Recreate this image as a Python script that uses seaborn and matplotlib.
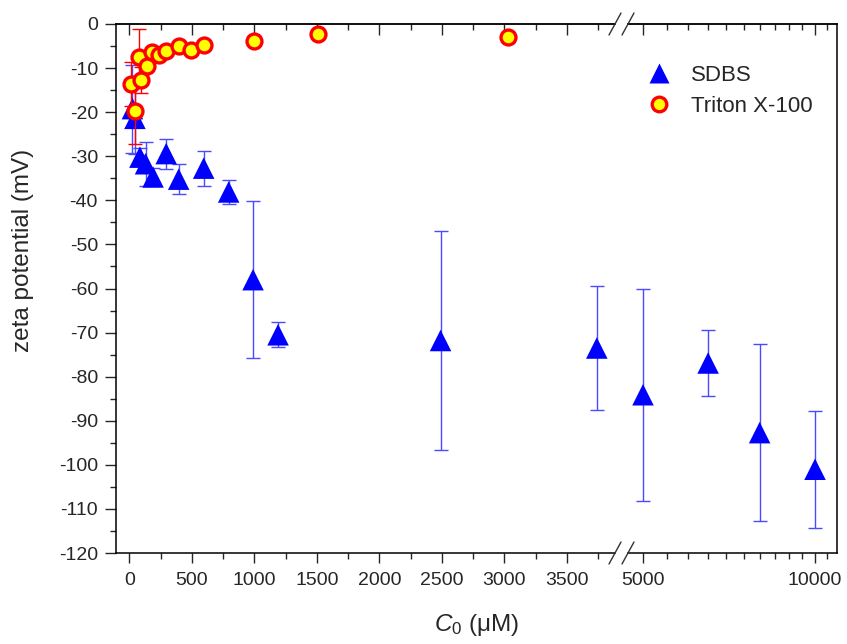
import numpy as np
import pandas as pd
import matplotlib
matplotlib.use("Agg")
import matplotlib.pyplot as plt
import seaborn as sns
from matplotlib.ticker import FixedLocator, NullFormatter, MultipleLocator
from matplotlib.lines import Line2D

# ---------------- data ----------------
sdbs_c = [25, 45, 85, 130, 190, 295, 395, 595, 795, 990, 1190, 2490, 3740,
          5000, 6500, 8000, 10000]
sdbs_zeta = [-19.2, -21.4, -30.2, -31.7, -34.7, -29.4, -35.2, -32.7, -38.1,
             -58.0, -70.5, -71.8, -73.5, -84.1, -76.9, -92.7, -101.0]
sdbs_err = [10.0, 8.0, 2.0, 5.0, 2.0, 3.4, 3.4, 4.0, 2.8, 17.8, 2.8, 24.8,
            14.0, 24.0, 7.5, 20.0, 13.3]

tx_c = [10, 45, 75, 90, 140, 185, 235, 290, 400, 490, 600, 1000, 1510, 3030]
tx_zeta = [-13.7, -19.8, -7.4, -12.7, -9.5, -6.4, -7.0, -6.1, -4.9, -5.9,
           -4.8, -3.9, -2.3, -2.9]
tx_err = [5.0, 7.5, 6.3, 3.0, 1.0, 1.0, 1.0, 1.0, 0.8, 0.8, 0.6, 0.8, 0.8, 0.6]

left_ticks = [0, 500, 1000, 1500, 2000, 2500, 3000, 3500]
right_ticks = [5000, 10000]
y_ticks = list(range(-120, 1, 10))

sdbs = pd.DataFrame({"C0": sdbs_c, "zeta": sdbs_zeta, "err": sdbs_err})
triton = pd.DataFrame({"C0": tx_c, "zeta": tx_zeta, "err": tx_err})

# ---------------- style ----------------
sns.set_theme(style="ticks")
plt.rcParams["font.family"] = ["Liberation Sans", "DejaVu Sans"]
plt.rcParams["axes.unicode_minus"] = False
plt.rcParams["mathtext.fontset"] = "custom"
plt.rcParams["mathtext.rm"] = "Liberation Sans"
plt.rcParams["mathtext.it"] = "Liberation Sans:italic"

W, H = 847, 644
fig = plt.figure(figsize=(W / 100, H / 100), dpi=100)

y_top, y_bot = 24, 553
xL0, xL1 = 116, 615
xR0, xR1 = 628, 837

axL = fig.add_axes([xL0 / W, 1 - y_bot / H, (xL1 - xL0) / W, (y_bot - y_top) / H])
axR = fig.add_axes([xR0 / W, 1 - y_bot / H, (xR1 - xR0) / W, (y_bot - y_top) / H],
                   sharey=axL)
axR.set_xscale("log")

blue = "#0000ff"
ebar_blue = "#4a4aff"
red = "#ff0000"
yellow = "#ffff00"

for ax in (axL, axR):
    ax.errorbar(sdbs["C0"], sdbs["zeta"], yerr=sdbs["err"], fmt="none",
                ecolor=ebar_blue, elinewidth=1.0, capsize=5, capthick=1.0, zorder=2)
    sns.scatterplot(data=sdbs, x="C0", y="zeta", ax=ax, marker="^", s=240,
                    color=blue, edgecolor="none", linewidth=0, zorder=3, legend=False)
    ax.errorbar(triton["C0"], triton["zeta"], yerr=triton["err"], fmt="none",
                ecolor=red, elinewidth=1.0, capsize=5, capthick=1.0, zorder=4)
    sns.scatterplot(data=triton, x="C0", y="zeta", ax=ax, marker="o", s=115,
                    color=yellow, edgecolor=red, linewidth=2.4, zorder=5, legend=False)
    ax.set_xlabel("")
    ax.set_ylabel("")
    ax.set_ylim(-120, 0)
    for sp in ax.spines.values():
        sp.set_linewidth(1.1)
        sp.set_color("black")

# left axis limits (pixel mapping: 0 -> 129.3 px, 0.125 px per uM)
axL.set_xlim((xL0 - 129.3) / 0.125, (xL1 - 129.3) / 0.125)
# right axis (log): 5000 -> 643 px, 571.4 px per decade
axR.set_xlim(5000 * 10 ** ((xR0 - 643) / 571.4), 5000 * 10 ** ((xR1 - 643) / 571.4))

axL.spines["right"].set_visible(False)
axR.spines["left"].set_visible(False)

# ticks
axL.set_xticks(left_ticks)
axL.set_xticklabels([str(t) for t in left_ticks])
axL.xaxis.set_minor_locator(MultipleLocator(250))
axL.set_yticks(y_ticks)
axL.set_yticklabels([str(t) for t in y_ticks])
axL.yaxis.set_minor_locator(MultipleLocator(5))
axL.tick_params(axis="y", which="major", direction="out", length=8, width=1.0,
                labelsize=14, pad=5, right=False)
axL.tick_params(axis="y", which="minor", direction="out", length=4.5, width=1.0, right=False)
axL.tick_params(axis="x", which="major", direction="out", length=7.5, width=1.0,
                labelsize=14, pad=6.5, top=False)
axL.tick_params(axis="x", which="minor", direction="out", length=4, width=1.0, top=False)

axR.set_xticks(right_ticks)
axR.set_xticklabels([str(t) for t in right_ticks])
minorR = [v for v in range(4500, 11001, 500) if v not in right_ticks]
axR.xaxis.set_minor_locator(FixedLocator(minorR))
axR.xaxis.set_minor_formatter(NullFormatter())
axR.tick_params(axis="x", which="major", direction="out", length=7.5, width=1.0,
                labelsize=14, pad=6.5, top=False)
axR.tick_params(axis="x", which="minor", direction="out", length=4, width=1.0, top=False)
axR.tick_params(axis="y", which="both", left=False, right=False, labelleft=False)

# top ticks pointing inward
secL = axL.secondary_xaxis("top")
secL.set_xticks(left_ticks)
secL.set_xticklabels([])
secL.xaxis.set_minor_locator(MultipleLocator(250))
secL.tick_params(axis="x", which="major", direction="in", length=8, width=1.0)
secL.tick_params(axis="x", which="minor", direction="in", length=4.5, width=1.0)
secL.spines["top"].set_linewidth(1.1)

secR = axR.secondary_xaxis("top")
secR.set_xticks(right_ticks)
secR.set_xticklabels([])
secR.xaxis.set_minor_locator(FixedLocator(minorR))
secR.xaxis.set_minor_formatter(NullFormatter())
secR.tick_params(axis="x", which="major", direction="in", length=8, width=1.0)
secR.tick_params(axis="x", which="minor", direction="in", length=4.5, width=1.0)
secR.spines["top"].set_linewidth(1.1)

# break marks
for cx in (xL1, xR0):
    for cy in (y_top, y_bot):
        fig.add_artist(Line2D([(cx - 6) / W, (cx + 6) / W],
                              [1 - (cy + 11) / H, 1 - (cy - 11) / H],
                              transform=fig.transFigure, color="#333333",
                              linewidth=1.0, clip_on=False))

# labels
fig.text(23 / W, 1 - 250 / H, "zeta potential (mV)", rotation=90,
         ha="center", va="center", fontsize=17.5)
fig.text(477 / W, 1 - 625 / H, r"$C_0$ (μM)", ha="center", va="center", fontsize=17.5)

# legend
handles = [
    Line2D([], [], linestyle="none", marker="^", markersize=15, color=blue,
           markeredgecolor="none"),
    Line2D([], [], linestyle="none", marker="o", markersize=10.5,
           markerfacecolor=yellow, markeredgecolor=red, markeredgewidth=2.4),
]
fig.legend(handles, ["SDBS", "Triton X-100"], loc="upper left",
           bbox_to_anchor=(642 / W, 1 - 65 / H), frameon=False, fontsize=16,
           handlelength=1.5, handletextpad=0.7, labelspacing=0.45, borderpad=0,
           borderaxespad=0)

fig.savefig("out.png", dpi=100)
